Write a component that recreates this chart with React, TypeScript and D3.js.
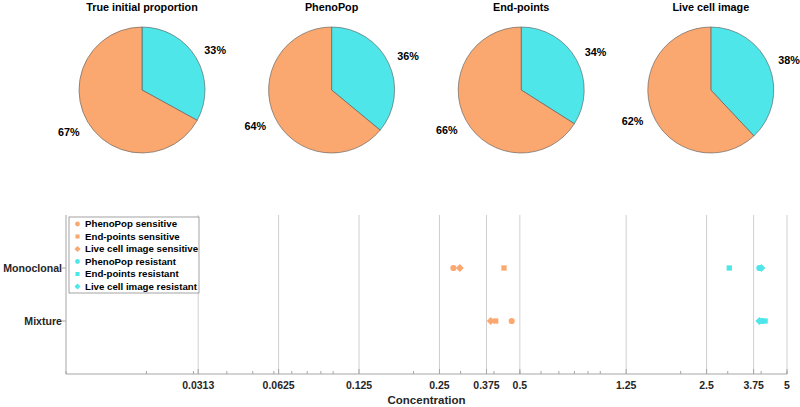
import * as d3 from 'd3'

const pieTitles = ['True initial proportion', 'PhenoPop', 'End-points', 'Live cell image']
const resistantPct = [33, 36, 34, 38]
const sensitivePct = [67, 64, 66, 62]

const groups = ['Monoclonal', 'Mixture']
// values per group: [Monoclonal, Mixture]
const sensPhenoPop = [0.282, 0.466]
const sensEndPoints = [0.436, 0.406]
const sensLiveCell = [0.298, 0.389]
const resPhenoPop = [3.94, 4.04]
const resEndPoints = [3.04, 4.14]
const resLiveCell = [4.01, 3.94]

const xTicks = [0.03125, 0.0625, 0.125, 0.25, 0.375, 0.5, 1.25, 2.5, 3.75, 5]
const xTickLabels = ['0.0313', '0.0625', '0.125', '0.25', '0.375', '0.5', '1.25', '2.5', '3.75', '5']

const ORANGE = '#FBA870'
const CYAN = '#4EE6E8'
const FONT = '"Liberation Sans", Arial, sans-serif'

const W = 800
const H = 407

const series = [
  {name: 'PhenoPop sensitive', values: sensPhenoPop, color: ORANGE, shape: d3.symbolCircle, size: 30},
  {name: 'End-points sensitive', values: sensEndPoints, color: ORANGE, shape: d3.symbolSquare, size: 28},
  {name: 'Live cell image sensitive', values: sensLiveCell, color: ORANGE, shape: d3.symbolDiamond2, size: 40},
  {name: 'PhenoPop resistant', values: resPhenoPop, color: CYAN, shape: d3.symbolCircle, size: 30},
  {name: 'End-points resistant', values: resEndPoints, color: CYAN, shape: d3.symbolSquare, size: 28},
  {name: 'Live cell image resistant', values: resLiveCell, color: CYAN, shape: d3.symbolDiamond2, size: 40},
]

const PiePanel = ({i}: {i: number}) => {
  const cx = 142 + i * 189.6
  const cy = 90
  const r = 63
  const vals = [resistantPct[i], sensitivePct[i]]
  const arcs = d3.pie<number>().sort(null).startAngle(0)(vals)
  const arcGen = d3.arc<d3.PieArcDatum<number>>().innerRadius(0).outerRadius(r)
  return (
    <g>
      <text x={cx} y={11} textAnchor="middle" fontSize={10.8} fontWeight="bold">{pieTitles[i]}</text>
      <g transform={`translate(${cx},${cy})`}>
        {arcs.map((a, k) => (
          <path key={k} d={arcGen(a)!} fill={k === 0 ? CYAN : ORANGE} stroke="#555" strokeWidth={0.6} />
        ))}
        {arcs.map((a, k) => {
          const mid = (a.startAngle + a.endAngle) / 2
          const lx = Math.sin(mid) * r * 1.15
          const ly = -Math.cos(mid) * r * 1.15 + (Math.cos(mid) > 0 ? -3 : 5)
          return (
            <text key={'t' + k} x={lx} y={ly} dy="0.35em" textAnchor={lx > 0 ? 'start' : 'end'}
              fontSize={10.8} fontWeight="bold">{a.data}%</text>
          )
        })}
      </g>
    </g>
  )
}

export default function App() {
  const left = 66
  const right = 787
  const top = 215
  const bottom = 374

  const x = d3.scaleLog().domain([0.01, 5]).range([left, right])
  const y = d3.scaleLinear().domain([0, 3]).range([bottom, top])
  const groupY = (g: number) => y(2 - g)
  const minorTicks = x.ticks()

  return (
    <svg width={W} height={H} style={{position: 'absolute', left: 0, top: 0, fontFamily: FONT}}>
      <rect width={W} height={H} fill="#fff" />
      {pieTitles.map((_, i) => <PiePanel key={i} i={i} />)}

      {/* grid */}
      {xTicks.map((t, k) => (
        <line key={k} x1={x(t)} x2={x(t)} y1={top} y2={bottom} stroke="#cfcfcf" strokeWidth={1} />
      ))}
      {/* axes */}
      <line x1={left} x2={right} y1={bottom} y2={bottom} stroke="#a6a6a6" strokeWidth={1} />
      <line x1={left} x2={left} y1={top} y2={bottom} stroke="#a6a6a6" strokeWidth={1} />
      {minorTicks.map((t, k) => (
        <line key={k} x1={x(t)} x2={x(t)} y1={bottom} y2={bottom - 3} stroke="#a6a6a6" strokeWidth={1} />
      ))}
      {xTicks.map((t, k) => (
        <g key={k}>
          <line x1={x(t)} x2={x(t)} y1={bottom} y2={bottom - 5} stroke="#a6a6a6" strokeWidth={1} />
          <text x={x(t)} y={389} textAnchor="middle" fontSize={10.5} fontWeight="bold" fill="#262626">{xTickLabels[k]}</text>
        </g>
      ))}
      <text x={(left + right) / 2} y={404} textAnchor="middle" fontSize={11.5} fontWeight="bold" fill="#262626">Concentration</text>

      {groups.map((g, k) => (
        <g key={g}>
          <line x1={left - 4} x2={left} y1={groupY(k)} y2={groupY(k)} stroke="#a6a6a6" strokeWidth={1} />
          <text x={left - 4} y={groupY(k)} dy="0.35em" textAnchor="end" fontSize={10.6} fontWeight="bold" fill="#262626">{g}</text>
        </g>
      ))}

      {/* points */}
      {series.map((s, si) => (
        <g key={si}>
          {s.values.map((v, gi) => (
            <path key={gi} transform={`translate(${x(v)},${groupY(gi)})`}
              d={d3.symbol().type(s.shape).size(s.size)()!} fill={s.color} />
          ))}
        </g>
      ))}

      {/* legend */}
      <rect x={69} y={217} width={130} height={76} fill="#fff" stroke="#8c8c8c" strokeWidth={0.8} />
      {series.map((s, si) => (
        <g key={si} transform={`translate(0,${224 + si * 12.5})`}>
          <path transform="translate(77.5,0)" d={d3.symbol().type(s.shape).size(s.size * 0.6)()!} fill={s.color} />
          <text x={85} y={0} dy="0.35em" fontSize={9.7} fontWeight="bold" fill="#000">{s.name}</text>
        </g>
      ))}
    </svg>
  )
}
